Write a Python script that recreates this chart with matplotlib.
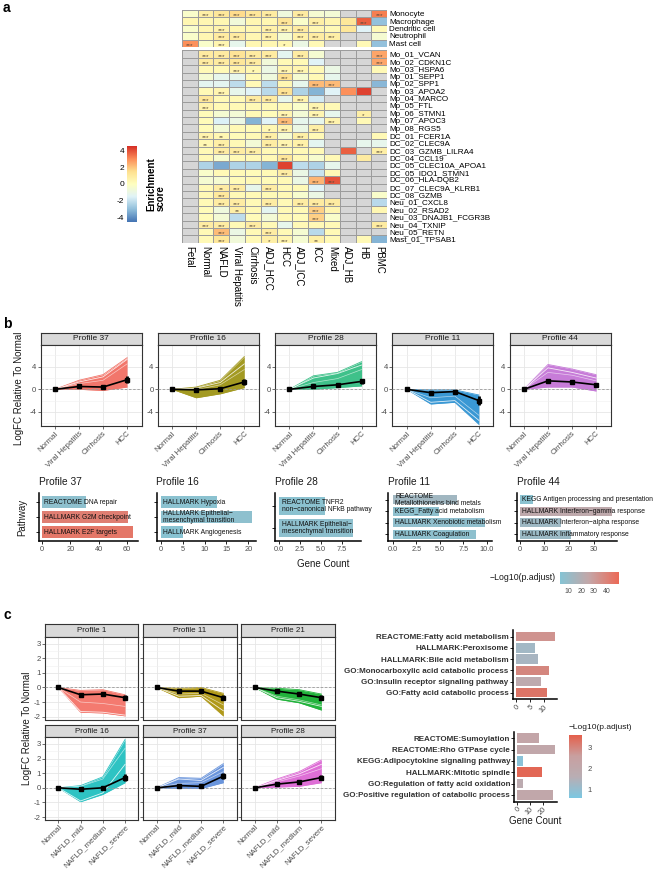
import numpy as np
import matplotlib
matplotlib.use('Agg')
import matplotlib.pyplot as plt
from matplotlib.colors import LinearSegmentedColormap, Normalize
from matplotlib.transforms import offset_copy

plt.rcParams['font.family'] = ['Liberation Sans', 'DejaVu Sans']
plt.rcParams['axes.unicode_minus'] = False
nan = np.nan

# ---------------- DATA ----------------
hm_cols = ['Fetal', 'Normal', 'NAFLD', 'Viral Hepatitis', 'Cirrhosis', 'ADJ_HCC', 'HCC',
           'ADJ_ICC', 'ICC', 'Mixed', 'ADJ_HB', 'HB', 'PBMC']
hm_top_rows = ['Monocyte', 'Macrophage', 'Dendritic cell', 'Neutrophil', 'Mast cell']
hm_top_vals = [
    [-0.3, 0.8, 1.2, 1.6, 1.2, 1.0, -0.8, 1.0, -0.5, -0.6, nan, nan, 3.3],
    [0.4, 0.4, 0.4, -0.7, 0.4, 0.4, 1.3, -0.3, 0.8, 0.5, 1.2, 3.8, -3.0],
    [-0.3, 0.4, 0.6, 0.4, 0.4, 0.7, 0.6, 1.0, 0.4, 0.3, 1.2, -1.5, 0.3],
    [-0.3, 0.4, 1.0, 1.0, 0.4, 0.7, -0.5, 0.7, 0.9, 0.8, nan, nan, -0.5],
    [3.0, -0.3, 0.5, -1.2, 0.4, 0.4, 0.4, -1.0, 0.3, nan, nan, 0.3, -3.0],
]
hm_top_stars = ['0333330300003', '0000003030030', '0030033300000', '0033030333000', '3030001000000']

hm_bot_rows = ['Mo_01_VCAN', 'Mo_02_CDKN1C', 'Mo_03_HSPA6', 'Mp_01_SEPP1', 'Mp_02_SPP1',
               'Mp_03_APOA2', 'Mp_04_MARCO', 'Mp_05_FTL', 'Mp_06_STMN1', 'Mp_07_APOC3',
               'Mp_08_RGS5', 'DC_01_FCER1A', 'DC_02_CLEC9A', 'DC_03_GZMB_LILRA4', 'DC_04_CCL19',
               'DC_05_CLEC10A_APOA1', 'DC_05_IDO1_STMN1', 'DC_06_HLA-DQB2', 'DC_07_CLEC9A_KLRB1',
               'DC_08_GZMB', 'Neu_01_CXCL8', 'Neu_02_RSAD2', 'Neu_03_DNAJB1_FCGR3B',
               'Neu_04_TXNIP', 'Neu_05_RETN', 'Mast_01_TPSAB1']
hm_bot_vals = [
    [nan, 1.0, 1.0, 1.3, 1.0, 1.0, -1.3, 0.9, -0.5, nan, nan, nan, 2.6],
    [nan, 1.0, 1.0, 1.2, 1.0, -0.7, 0.3, 0.3, -1.5, nan, nan, nan, 2.6],
    [nan, 0.3, 0.3, 0.6, 0.4, -1.0, 0.5, 0.5, 0.3, -1.0, nan, nan, 0.3],
    [nan, -0.5, -1.2, -1.2, 0.3, -0.8, 1.5, -0.5, 0.3, -1.2, nan, nan, nan],
    [nan, -1.3, -1.3, -2.2, 0.3, -2.2, 0.4, -1.2, 2.2, 2.2, nan, nan, -3.2],
    [nan, 0.3, 0.5, -1.2, -1.5, -2.3, 1.4, -2.5, -3.3, -1.5, 3.0, 4.3, nan],
    [nan, 1.2, 0.3, 0.3, 1.0, 1.0, -1.2, 0.6, -1.8, nan, nan, nan, nan],
    [nan, 0.6, 0.3, 0.3, 0.3, 0.3, 0.3, -0.3, 0.5, 0.3, nan, nan, nan],
    [nan, 0.2, -0.5, -0.6, 0.3, 0.2, 0.5, -0.6, 0.5, -1.2, nan, 0.8, nan],
    [nan, 0.2, -1.6, -1.0, -3.3, -1.5, 2.2, -1.2, -1.2, 0.6, nan, 0.3, nan],
    [nan, 0.2, -0.6, 0.3, 0.2, 0.4, 0.6, -1.0, 0.8, nan, nan, nan, nan],
    [nan, 0.6, 0.4, 0.2, 0.3, 0.8, -0.5, 0.8, 0.3, nan, nan, nan, 0.3],
    [nan, 0.4, 0.8, 0.3, -0.6, 0.9, 0.5, 0.7, -1.3, nan, nan, -1.2, -1.2],
    [nan, 0.3, 0.9, 0.9, 0.8, 0.3, 0.3, 0.3, 0.3, nan, 3.8, nan, 0.8],
    [nan, 0.3, -0.4, 0.3, 0.3, 0.3, 1.2, 0.3, -0.4, 0.3, nan, 1.0, nan],
    [nan, -2.5, -3.5, -2.5, -2.5, -3.3, 4.3, -2.2, -2.5, -1.2, nan, nan, nan],
    [nan, -0.3, 0.3, 0.3, 0.2, 0.3, 0.9, -1.0, -2.0, 0.3, nan, nan, nan],
    [nan, -0.5, -0.5, 0.2, 0.3, 0.2, 0.3, -1.0, 2.3, 4.0, nan, nan, nan],
    [nan, 0.3, 0.9, 0.9, -1.2, 0.9, 0.3, 0.3, -1.5, nan, nan, nan, nan],
    [nan, 0.3, 1.1, 0.3, 0.3, 0.3, 0.3, -0.4, -1.0, nan, nan, nan, -0.3],
    [nan, 0.3, 0.9, 0.9, 0.3, 0.9, 0.3, 0.9, 1.0, 1.0, nan, nan, -2.3],
    [nan, 0.2, -0.8, 0.8, 0.3, -1.3, 0.3, 0.3, 1.8, 0.5, nan, nan, 0.4],
    [nan, 0.2, -0.6, -2.2, 0.2, -0.6, 0.3, 0.2, 1.8, -0.3, nan, nan, nan],
    [nan, 0.9, 0.9, 0.3, 0.9, 0.3, -1.2, 0.3, 0.3, 0.3, nan, nan, 1.0],
    [nan, 0.3, 2.2, -1.0, 0.3, 0.9, 0.3, -0.5, -2.3, 0.3, nan, nan, nan],
    [nan, 0.3, 1.2, -0.7, 0.3, 0.8, 0.5, -0.5, 0.8, 0.3, nan, 0.3, -3.3],
]
hm_bot_stars = ['0333330300003', '0333300000003', '0003103300000', '0000003000000', '0000000033000',
                '0030003000000', '0300330300000', '0300000030000', '0000003030010', '0000003003000',
                '0000013030000', '0320030300000', '0230033300000', '0033300000003', '0000003000000',
                '0000000000000', '0000003000000', '0000000033000', '0023030000000', '0030000000000',
                '0033030333000', '0002000030000', '0000000030000', '0330300000003', '0030030000000',
                '0030013020000']

# panel b line profiles
b_states = ['Normal', 'Viral Hepatitis', 'Cirrhosis', 'HCC']
b_profiles = ['Profile 37', 'Profile 16', 'Profile 28', 'Profile 11', 'Profile 44']
b_colors = ['#F2766B', '#A39A22', '#3FC18A', '#3A98D4', '#C77CD8']
b_low = [[0, 0.0, -0.2, 0.4], [0, -1.5, -0.8, 0.3], [0, 0.0, 0.3, 0.6], [0, -2.6, -2.3, -6.2], [0, 0.4, 0.4, -0.3]]
b_high = [[0, 1.6, 2.6, 5.6], [0, 0.4, 1.6, 5.8], [0, 2.4, 3.0, 4.9], [0, -0.1, -0.1, -1.0], [0, 4.4, 3.6, 2.6]]
b_white1 = [[0, 1.3, 2.2, 5.3], [0, 0.2, 1.2, 4.5], [0, 2.0, 2.8, 4.3], [0, -2.3, -2.0, -5.5], [0, 3.8, 3.0, 2.0]]
b_white2 = [[0, 1.0, 1.6, 4.5], [0, -0.1, 0.8, 3.5], [0, 1.2, 1.9, 3.5], [0, -1.5, -1.2, -4.6], [0, 3.0, 2.5, 1.5]]
b_mean = [[0, 0.5, 0.4, 1.7], [0, -0.1, 0.1, 1.3], [0, 0.5, 0.8, 1.4], [0, -0.6, -0.4, -2.0], [0, 1.5, 1.3, 0.8]]
b_err = [[0, 0.35, 0.3, 0.6], [0, 0.3, 0.3, 0.6], [0, 0.25, 0.3, 0.45], [0, 0.35, 0.3, 0.8], [0, 0.4, 0.35, 0.4]]

# panel b enrichment bars (top to bottom)
bb_terms = [
    ['REACTOME DNA repair', 'HALLMARK G2M checkpoint', 'HALLMARK E2F targets'],
    ['HALLMARK Hypoxia', 'HALLMARK Epithelial\u2212\nmesenchymal transition', 'HALLMARK Angiogenesis'],
    ['REACTOME TNFR2\nnon\u2212canonical NFkB pathway', 'HALLMARK Epithelial\u2212\nmesenchymal transition'],
    ['REACTOME\nMetallothioneins bind metals', 'KEGG_Fatty acid metabolism',
     'HALLMARK Xenobiotic metabolism', 'HALLMARK Coagulation'],
    ['KEGG Antigen processing and presentation', 'HALLMARK Interferon\u2212gamma response',
     'HALLMARK Interferon\u2212alpha response', 'HALLMARK Inflammatory response'],
]
bb_counts = [[31, 61, 64.5], [12.8, 20.8, 5.0], [5.5, 8.8], [6.8, 4.9, 9.8, 8.8], [5.6, 37.4, 17, 21]]
bb_logp = [[6, 42, 45], [5, 6, 4], [5, 6], [13, 6, 7, 6], [5, 24, 12, 11]]
bb_ticks = [[0, 20, 40, 60], [0, 5, 10, 15, 20], [0.0, 2.5, 5.0, 7.5], [0.0, 2.5, 5.0, 7.5, 10.0], [0, 10, 20, 30]]
bb_xmax = [68, 21.8, 9.8, 10.5, 39.5]

# panel c line profiles
c_states = ['Normal', 'NAFLD_mild', 'NAFLD_medium', 'NAFLD_severe']
c_profiles = ['Profile 1', 'Profile 11', 'Profile 21', 'Profile 16', 'Profile 37', 'Profile 28']
c_colors = ['#F47A70', '#B0991A', '#22B33C', '#2EC3C3', '#6A95DC', '#DE6FD6']
c_low = [[0, -1.7, -1.75, -1.95], [0, -0.7, -0.6, -1.95], [0, -0.8, -1.05, -1.55],
         [0, -0.95, -0.45, 0.35], [0, -0.05, -0.05, 0.35], [0, 0.05, 0.1, 0.35]]
c_high = [[0, -0.2, -0.15, -0.5], [0, -0.05, 0.0, -0.4], [0, -0.05, -0.15, -0.45],
          [0, 0.15, 0.75, 3.3], [0, 0.7, 0.65, 1.65], [0, 0.6, 1.1, 1.9]]
c_white1 = [[0, -1.65, -1.7, -1.9], [0, -0.6, -0.55, -1.6], [0, -0.7, -0.95, -1.3],
            [0, -0.9, -0.35, 1.6], [0, 0.6, 0.5, 1.4], [0, 0.5, 0.95, 1.6]]
c_white2 = [[0, -1.0, -1.1, -1.3], [0, -0.45, -0.4, -1.2], [0, -0.6, -0.85, -1.2],
            [0, 0.1, 0.6, 2.7], [0, 0.3, 0.35, 1.1], [0, 0.4, 0.8, 1.3]]
c_mean = [[0, -0.5, -0.45, -0.7], [0, -0.25, -0.25, -0.7], [0, -0.25, -0.45, -0.7],
          [0, -0.1, 0.0, 0.7], [0, 0.15, 0.1, 0.8], [0, 0.25, 0.4, 0.7]]
c_err = [[0, 0.12, 0.12, 0.15], [0, 0.1, 0.1, 0.18], [0, 0.1, 0.12, 0.18],
         [0, 0.1, 0.1, 0.25], [0, 0.07, 0.07, 0.2], [0, 0.08, 0.1, 0.2]]

# panel c enrichment bars (top to bottom)
cb1_terms = ['REACTOME:Fatty acid metabolism', 'HALLMARK:Peroxisome', 'HALLMARK:Bile acid metabolism',
             'GO:Monocarboxylic acid catabolic process', 'GO:Insulin receptor signaling pathway',
             'GO:Fatty acid catabolic process']
cb1_counts = [14, 6.8, 7.8, 11.9, 8.9, 11.1]
cb1_logp = [2.8, 1.2, 1.3, 3.0, 1.9, 3.3]
cb2_terms = ['REACTOME:Sumoylation', 'REACTOME:Rho GTPase cycle', 'KEGG:Adipocytokine signaling pathway',
             'HALLMARK:Mitotic spindle', 'GO:Regulation of fatty acid oxidation',
             'GO:Positive regulation of catabolic process']
cb2_counts = [17, 28.7, 5, 19.3, 5, 27]
cb2_logp = [2.2, 2.1, 0.8, 3.5, 1.8, 2.1]

# ---------------- FIGURE ----------------
W, H = 659, 871
fig = plt.figure(figsize=(W / 100, H / 100), dpi=100)


def px_axes(x0, y0, x1, y1):
    return fig.add_axes([x0 / W, 1 - y1 / H, (x1 - x0) / W, (y1 - y0) / H])


def fig_text(x, y, s, **kw):
    fig.text(x / W, 1 - y / H, s, **kw)


fig_text(3, 8, 'a', fontsize=10, fontweight='bold', va='center')
fig_text(3, 324, 'b', fontsize=10, fontweight='bold', va='center')
fig_text(3, 615, 'c', fontsize=10, fontweight='bold', va='center')

# ---- heatmap ----
hm_cmap = LinearSegmentedColormap.from_list(
    'hm', ['#4575B4', '#91BFDB', '#E0F3F8', '#FFFFBF', '#FEE090', '#FC8D59', '#D73027'])
hm_cmap.set_bad('#D6D6D6')
hm_norm = Normalize(-4.6, 4.6)


def draw_heat(ax, vals, rows, stars, show_cols):
    arr = np.ma.masked_invalid(np.array(vals, dtype=float))
    ax.pcolormesh(arr, cmap=hm_cmap, norm=hm_norm, edgecolors='#9C9C9C', linewidth=0.45)
    ax.set_xlim(0, len(hm_cols))
    ax.set_ylim(len(rows), 0)
    ax.yaxis.tick_right()
    ax.set_yticks(np.arange(len(rows)) + 0.5)
    ax.set_yticklabels(rows, fontsize=5.9)
    ax.tick_params(axis='y', length=0, pad=1.5)
    if show_cols:
        ax.set_xticks(np.arange(len(hm_cols)) + 0.5)
        ax.set_xticklabels(hm_cols, rotation=270, fontsize=7, va='top', ha='center')
        ax.tick_params(axis='x', length=0, pad=2)
    else:
        ax.set_xticks([])
    for s in ax.spines.values():
        s.set_visible(False)
    for i, srow in enumerate(stars):
        for j, ch in enumerate(srow):
            n = int(ch)
            if n:
                ax.text(j + 0.5, i + 0.78, '*' * n, ha='center', va='center', fontsize=4.6,
                        color='#5A4A3A')


ax_ht = px_axes(181.7, 10, 387.3, 47)
draw_heat(ax_ht, hm_top_vals, hm_top_rows, hm_top_stars, False)
ax_hb = px_axes(181.7, 50.5, 387.3, 242.9)
draw_heat(ax_hb, hm_bot_vals, hm_bot_rows, hm_bot_stars, True)

ax_cb = px_axes(127, 146, 137, 222)
grad = np.linspace(4.6, -4.6, 200).reshape(-1, 1)
ax_cb.imshow(grad, aspect='auto', cmap=hm_cmap, norm=hm_norm, extent=[0, 1, -4.6, 4.6])
ax_cb.set_xticks([])
ax_cb.set_yticks([-4, -2, 0, 2, 4])
ax_cb.tick_params(axis='y', labelsize=6, length=0, pad=2)
for s in ax_cb.spines.values():
    s.set_visible(False)
fig_text(146, 184, 'Enrichment\nscore', rotation=90, fontsize=7, fontweight='bold',
         ha='left', va='center', linespacing=1.0)


# ---- ggplot-like facet helpers ----
def style_bw(ax):
    for s in ax.spines.values():
        s.set_color('#333333')
        s.set_linewidth(0.8)
    ax.grid(True, which='major', color='#E6E6E6', lw=0.6)
    ax.grid(True, which='minor', axis='y', color='#F0F0F0', lw=0.4)
    ax.set_axisbelow(True)
    ax.tick_params(length=2, width=0.5, color='#333333', labelsize=5.6, labelcolor='#4D4D4D', pad=1)


def strip(x0, y0, x1, y1, label, fs=6):
    sa = px_axes(x0, y0, x1, y1)
    sa.set_facecolor('#D9D9D9')
    sa.set_xticks([])
    sa.set_yticks([])
    for s in sa.spines.values():
        s.set_color('#333333')
        s.set_linewidth(0.8)
    sa.text(0.5, 0.5, label, ha='center', va='center', fontsize=fs, color='#1A1A1A',
            transform=sa.transAxes)


def profile_panel(ax, color, lo, hi, w1, w2, mean, err, states, ylim, show_x, show_y, xfs):
    x = np.arange(len(states))
    ax.fill_between(x, lo, hi, color=color, lw=0, zorder=2)
    ax.plot(x, lo, color=color, lw=0.6, zorder=2)
    ax.plot(x, hi, color=color, lw=0.6, zorder=2)
    ax.plot(x, w1, color='white', lw=0.6, alpha=0.85, zorder=3)
    ax.plot(x, w2, color='white', lw=0.5, alpha=0.6, zorder=3)
    ax.axhline(0, color='#9A9A9A', lw=0.6, ls=(0, (3, 2)), zorder=4)
    ax.plot(x, mean, color='black', lw=1.2, zorder=5)
    ax.errorbar(x, mean, yerr=err, fmt='s', ms=2.2, color='black', elinewidth=2.0,
                capsize=0, zorder=6)
    ax.set_xlim(-0.6, len(states) - 0.4)
    ax.set_ylim(*ylim)
    ax.set_xticks(x)
    if show_x:
        ax.set_xticklabels(states, rotation=45, ha='right', rotation_mode='anchor', fontsize=xfs)
    else:
        ax.set_xticklabels([])
    style_bw(ax)
    if not show_y:
        ax.set_yticklabels([])


# ---- panel b profiles ----
b_left = [40.5, 157.7, 275.0, 392.3, 509.5]
for k in range(5):
    x0 = b_left[k]
    x1 = x0 + 101
    strip(x0, 333, x1, 345, b_profiles[k])
    ax = px_axes(x0, 345, x1, 426)
    ax.set_yticks([-4, 0, 4])
    ax.set_yticks([-6, -2, 2, 6], minor=True)
    ax.tick_params(axis='y', which='minor', length=0)
    profile_panel(ax, b_colors[k], b_low[k], b_high[k], b_white1[k], b_white2[k],
                  b_mean[k], b_err[k], b_states, (-6.5, 7.85), True, True, 5.8)
fig_text(19, 388, 'LogFC Relative To Normal', rotation=90, fontsize=7, ha='center', va='center',
         color='#1A1A1A')

# ---- panel b bars ----
bcmap = LinearSegmentedColormap.from_list('bb', ['#86C4D4', '#C5A6A7', '#EC6A57'])
bnorm = Normalize(3, 50)
bb_axis = [39.3, 156.5, 275.0, 388.3, 516.7]
bb_zero = [42.0, 160.9, 279.0, 392.7, 519.5]
bb_scale = [1.413, 4.37, 8.4, 9.43, 2.47]
for k in range(5):
    n = len(bb_terms[k])
    x_lo = -(bb_zero[k] - bb_axis[k]) / bb_scale[k]
    x1 = bb_zero[k] + bb_xmax[k] * bb_scale[k]
    ax = px_axes(bb_axis[k], 493, x1, 541)
    ys = np.arange(n)
    cols = [bcmap(bnorm(v)) for v in bb_logp[k]]
    ax.barh(ys, bb_counts[k], height=0.8, color=cols, zorder=2)
    ax.set_ylim(n - 0.4, -0.6)
    ax.set_xlim(x_lo, bb_xmax[k])
    tr = offset_copy(ax.transData, fig=fig, x=2.5, y=0, units='dots')
    for i, t in enumerate(bb_terms[k]):
        ax.text(0, i, t, transform=tr, fontsize=4.9, ha='left', va='center', color='#111111',
                linespacing=0.95, zorder=3, clip_on=False)
    ax.set_yticks(ys)
    ax.set_yticklabels([])
    ax.set_xticks(bb_ticks[k])
    ax.set_xticklabels([('%g' % v) if isinstance(v, int) else ('%.1f' % v) for v in bb_ticks[k]])
    for s in ['top', 'right']:
        ax.spines[s].set_visible(False)
    for s in ['left', 'bottom']:
        ax.spines[s].set_linewidth(1.1)
        ax.spines[s].set_color('black')
    ax.tick_params(length=2, width=0.6, labelsize=5.3, labelcolor='#4D4D4D', pad=1.5)
    fig_text(bb_axis[k], 481.7, b_profiles[k], fontsize=7.3,
             ha='left', va='center', color='#1A1A1A')
fig_text(22, 517, 'Pathway', rotation=90, fontsize=7, ha='center', va='center', color='#1A1A1A')
fig_text(323, 564, 'Gene Count', fontsize=7, ha='center', va='center', color='#1A1A1A')

# b legend
fig_text(556, 578, '\u2212Log10(p.adjust)', fontsize=6.3, ha='right', va='center', color='#1A1A1A')
axl = px_axes(560, 572, 619, 584)
gl = np.linspace(3, 50, 200).reshape(1, -1)
axl.imshow(gl, aspect='auto', cmap=bcmap, norm=bnorm, extent=[3, 50, 0, 1])
axl.set_yticks([])
axl.set_xticks([10, 20, 30, 40])
axl.tick_params(axis='x', labelsize=5, length=2, width=0.5, color='white', labelcolor='#4D4D4D', pad=1)
for s in axl.spines.values():
    s.set_visible(False)

# ---- panel c profiles ----
c_left = [45, 143.3, 241.3]
c_rows = [(624, 637, 719.5), (725, 737, 820)]
for k in range(6):
    r, cidx = divmod(k, 3)
    x0 = c_left[cidx]
    x1 = x0 + 93.4
    st, pt, pb = c_rows[r]
    strip(x0, st, x1, pt, c_profiles[k], fs=5.8)
    ax = px_axes(x0, pt, x1, pb)
    ax.set_yticks([-2, -1, 0, 1, 2, 3])
    ax.set_yticks([-1.5, -0.5, 0.5, 1.5, 2.5], minor=True)
    ax.tick_params(axis='y', which='minor', length=0)
    profile_panel(ax, c_colors[k], c_low[k], c_high[k], c_white1[k], c_white2[k],
                  c_mean[k], c_err[k], c_states, (-2.2, 3.47), r == 1, cidx == 0, 5.0)
    if r == 0:
        ax.tick_params(axis='x', length=0)
    else:
        ax.tick_params(axis='x', pad=0.5)
fig_text(27, 728, 'LogFC Relative To Normal', rotation=90, fontsize=7, ha='center', va='center',
         color='#1A1A1A')

# ---- panel c bars ----
ccmap = LinearSegmentedColormap.from_list('cb', ['#7CC8E2', '#B9AEB4', '#C9A0A0', '#E5604C'])
cnorm = Normalize(0.57, 3.61)


def c_bars(terms, counts, logp, axis_x, zero_x, scale, top, spacing, xmax, ticks):
    n = len(terms)
    y0 = top - 0.6 * spacing
    y1 = top + (n - 1 + 0.6) * spacing
    x1 = zero_x + xmax * scale
    ax = px_axes(axis_x, y0, x1, y1)
    ys = np.arange(n)
    ax.barh(ys, counts, height=0.85, color=[ccmap(cnorm(v)) for v in logp])
    ax.set_ylim(n - 0.4, -0.6)
    ax.set_xlim(-(zero_x - axis_x) / scale, xmax)
    ax.set_yticks(ys)
    ax.set_yticklabels(terms, fontsize=5.8, fontweight='bold', color='#333333')
    ax.set_xticks(ticks)
    ax.set_xticklabels([str(t) for t in ticks], rotation=45, ha='right', rotation_mode='anchor')
    for s in ['top', 'right']:
        ax.spines[s].set_visible(False)
    for s in ['left', 'bottom']:
        ax.spines[s].set_linewidth(1.1)
        ax.spines[s].set_color('black')
    ax.tick_params(axis='y', length=2, width=0.6, pad=1)
    ax.tick_params(axis='x', length=2, width=0.6, labelsize=5.3, labelcolor='#4D4D4D', pad=1)
    return ax


c_bars(cb1_terms, cb1_counts, cb1_logp, 512.7, 515.7, 2.8, 636.7, 11.2, 14.7, [0, 5, 10])
c_bars(cb2_terms, cb2_counts, cb2_logp, 514.3, 516.7, 1.33, 738.3, 11.33, 30.1, [0, 10, 20])
fig_text(535, 821, 'Gene Count', fontsize=7, ha='center', va='center', color='#1A1A1A')

fig_text(569, 727, '\u2212Log10(p.adjust)', fontsize=6.0, ha='left', va='center', color='#1A1A1A')
axc = px_axes(569, 735, 582, 798)
gc = np.linspace(3.61, 0.57, 200).reshape(-1, 1)
axc.imshow(gc, aspect='auto', cmap=ccmap, norm=cnorm, extent=[0, 1, 0.57, 3.61])
axc.set_xticks([])
axc.yaxis.tick_right()
axc.set_yticks([1, 2, 3])
axc.tick_params(axis='y', labelsize=5.5, length=2, width=0.5, color='white', labelcolor='#4D4D4D', pad=2)
for s in axc.spines.values():
    s.set_visible(False)

fig.savefig('out.png', dpi=100, facecolor='white')
